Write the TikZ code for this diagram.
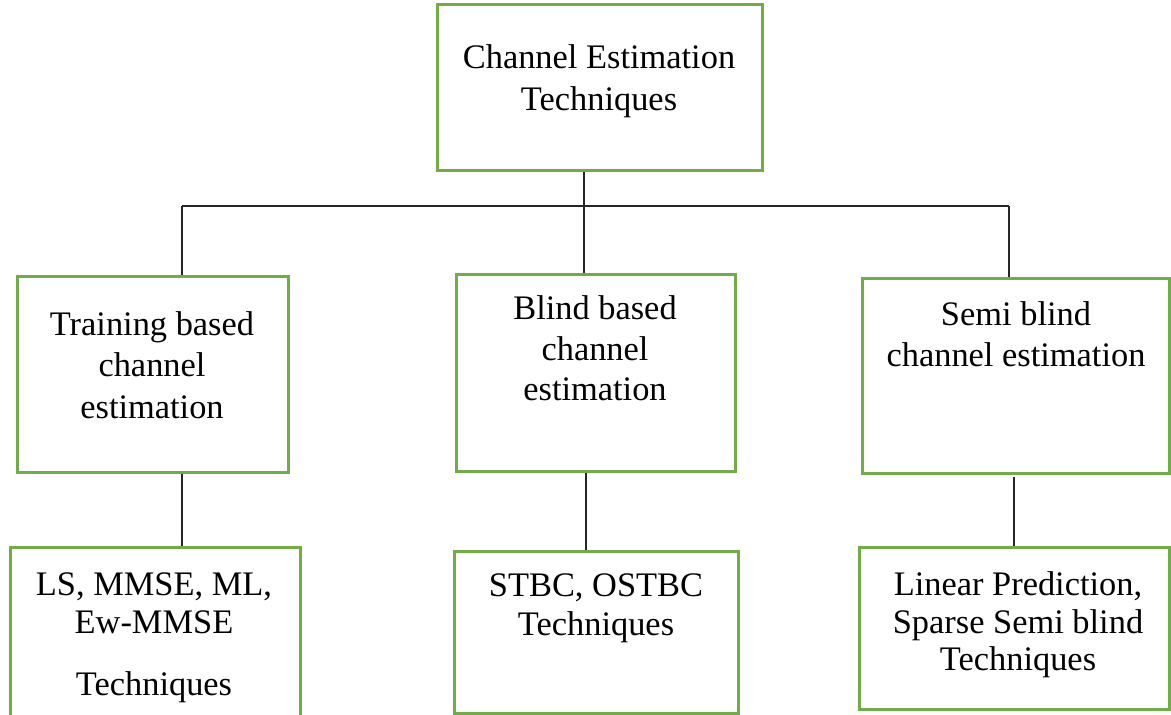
\documentclass[tikz,border=0pt]{standalone}
\usepackage{fontspec}
\setmainfont{Liberation Serif}
\definecolor{boxgreen}{HTML}{70AD47}
\begin{document}
\begin{tikzpicture}[x=0.5pt, y=-0.5pt,
  box/.style={draw=boxgreen, line width=1.5pt, fill=white, inner sep=0pt},
  label/.style={align=center, inner sep=0pt, anchor=base,
    font=\fontsize{17.2pt}{20.5pt}\selectfont},
  link/.style={draw=black!85, line width=0.8pt}]
\useasboundingbox (0,0) rectangle (1171,714);

% frames
\node[box, minimum width=162.5pt, minimum height=83pt]   (top)  at (599.5,87)   {};
\node[box, minimum width=135.5pt, minimum height=98pt]   (left) at (152.5,374)  {};
\node[box, minimum width=139.5pt, minimum height=98.5pt] (mid)  at (595.5,372.5){};
\node[box, minimum width=153.75pt,minimum height=97.5pt] (right)at (1015.75,375.5){};
\node[box, minimum width=145pt,   minimum height=106.5pt](lsub) at (155,653.5)  {};
\node[box, minimum width=142pt,   minimum height=81pt]   (msub) at (596,632)    {};
\node[box, minimum width=155.25pt,minimum height=81pt]   (rsub) at (1014.25,628){};

% texts (anchored at the baseline of their last line)
\node[label] (ttop)  at (599,110) {Channel Estimation\\[0.5pt]Techniques};
\node[label] (tleft) at (152,418) {Training based\\channel\\[0.5pt]estimation};
\node[label] (tmid)  at (595,400) {Blind based\\channel\\[-0.5pt]estimation};
\node[label] (tright)at (1016,366){Semi blind\\channel estimation};
\node[label] (tlsub) at (154,695) {LS, MMSE, ML,\\[-1.5pt]Ew-MMSE\\[10.5pt]Techniques};
\node[label] (tmsub) at (596,635) {STBC, OSTBC\\[-1pt]Techniques};
\node[label] (trsub) at (1018,670){Linear Prediction,\\[-1.5pt]Sparse Semi blind\\[-2pt]Techniques};

% connectors
\coordinate (jl) at (182,206);
\coordinate (jm) at (584,206);
\coordinate (jr) at (1009,206);
\coordinate (cm) at (586,0);
\coordinate (cr) at (1014,477);

\draw[link] (jl) -- (jr);
\draw[link] (jm |- top.south) -- (jm |- mid.north);
\draw[link] (jl) -- (jl |- left.north);
\draw[link] (jr) -- (jr |- right.north);
\draw[link] (jl |- left.south) -- (jl |- lsub.north);
\draw[link] (cm |- mid.south) -- (cm |- msub.north);
\draw[link] (cr) -- (cr |- rsub.north);
\end{tikzpicture}
\end{document}
